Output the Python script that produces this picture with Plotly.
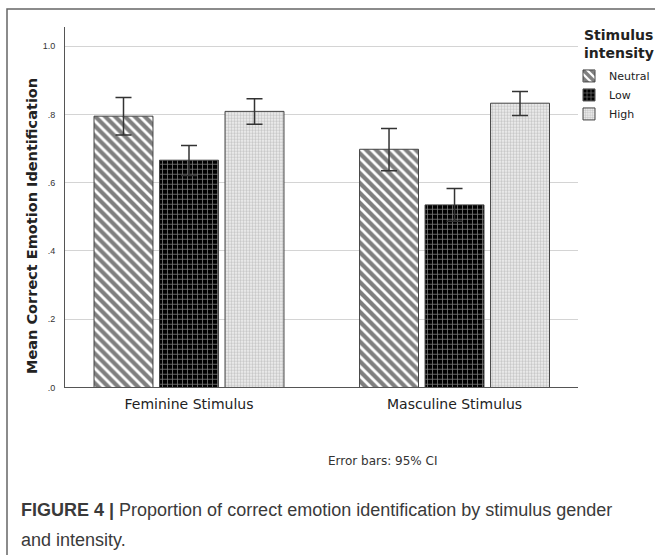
import plotly.graph_objects as go

# Stimulus gender groups and intensity levels
categories = ["Feminine Stimulus", "Masculine Stimulus"]
intensities = ["Neutral", "Low", "High"]

# Mean proportion of correct emotion identification
means = {
    "Neutral": [0.795, 0.698],
    "Low": [0.666, 0.535],
    "High": [0.809, 0.833],
}
# 95% confidence interval bounds
ci_low = {
    "Neutral": [0.740, 0.635],
    "Low": [0.621, 0.487],
    "High": [0.771, 0.797],
}
ci_high = {
    "Neutral": [0.850, 0.759],
    "Low": [0.709, 0.583],
    "High": [0.846, 0.867],
}

y_ticks = [0.0, 0.2, 0.4, 0.6, 0.8, 1.0]
y_tick_text = [".0", ".2", ".4", ".6", ".8", "1.0"]

patterns = {
    "Neutral": dict(shape="\\", fgcolor="black", bgcolor="white", size=7, solidity=0.6),
    "Low": dict(shape="+", fgcolor="#f2f2f2", bgcolor="black", size=5, solidity=0.3),
    "High": dict(shape=".", fgcolor="#999999", bgcolor="#f2f2f2", size=3, solidity=0.5),
}

W, H = 655, 555


def px_x(p):
    return p / W


def px_y(p):
    return (H - p) / H


fig = go.Figure()
for name in intensities:
    m = means[name]
    fig.add_trace(go.Bar(
        name=name,
        x=categories,
        y=m,
        marker=dict(color="white", pattern=patterns[name],
                    line=dict(color="#444444", width=1)),
        error_y=dict(
            type="data", symmetric=False,
            array=[h - v for h, v in zip(ci_high[name], m)],
            arrayminus=[v - l for v, l in zip(m, ci_low[name])],
            color="#333333", thickness=1.5, width=8,
        ),
    ))

fig.update_layout(
    width=W, height=H,
    margin=dict(l=0, r=0, t=0, b=0),
    paper_bgcolor="white", plot_bgcolor="white",
    barmode="group", bargap=0.26, bargroupgap=0.1,
    font=dict(family="DejaVu Sans", color="#222222"),
    xaxis=dict(
        domain=[px_x(65), px_x(578)],
        range=[-0.467, 1.465],
        showline=True, linecolor="#555555", linewidth=1,
        showgrid=False, ticks="", ticklabelstandoff=4,
        tickfont=dict(family="DejaVu Sans", size=14, color="#222222"),
    ),
    yaxis=dict(
        domain=[px_y(391), px_y(27)],
        range=[0, 1.057],
        tickvals=y_ticks, ticktext=y_tick_text,
        showline=True, linecolor="#555555", linewidth=1,
        showgrid=True, gridcolor="#d4d4d4", gridwidth=1,
        zeroline=False, ticks="", ticklabelstandoff=7,
        tickfont=dict(family="Liberation Sans", size=9, color="#333333"),
    ),
    legend=dict(
        x=px_x(569), y=px_y(62), xanchor="left", yanchor="top",
        bgcolor="rgba(0,0,0,0)", borderwidth=0,
        font=dict(family="DejaVu Sans", size=11, color="#222222"),
        itemwidth=30, tracegroupgap=0,
    ),
    showlegend=True,
)

# Outer frame around the chart panel
fig.add_shape(type="rect", xref="paper", yref="paper",
              x0=px_x(7), x1=1.02, y0=-0.02, y1=px_y(9),
              line=dict(color="#666666", width=1.5), fillcolor="rgba(0,0,0,0)",
              layer="below")

annotations = [
    dict(x=px_x(32), y=px_y(228), text="<b>Mean Correct Emotion Identification</b>",
         textangle=-90, font=dict(family="DejaVu Sans", size=14.5, color="#222222"),
         xanchor="center", yanchor="middle"),
    dict(x=px_x(582), y=px_y(44), text="<b>Stimulus<br>intensity</b>",
         font=dict(family="DejaVu Sans", size=14, color="#222222"),
         xanchor="left", yanchor="middle", align="left"),
    dict(x=px_x(382), y=px_y(465), text="Error bars: 95% CI",
         font=dict(family="DejaVu Sans", size=12, color="#333333"),
         xanchor="center", yanchor="middle"),
    dict(x=px_x(19), y=px_y(515),
         text="<b>FIGURE 4 |</b> Proportion of correct emotion identification by stimulus gender",
         font=dict(family="Liberation Sans", size=18, color="#3a3a3a"),
         xanchor="left", yanchor="middle", align="left"),
    dict(x=px_x(19), y=px_y(545), text="and intensity.",
         font=dict(family="Liberation Sans", size=18, color="#3a3a3a"),
         xanchor="left", yanchor="middle", align="left"),
]
for a in annotations:
    fig.add_annotation(xref="paper", yref="paper", showarrow=False, **a)

fig.write_html("out.html")
